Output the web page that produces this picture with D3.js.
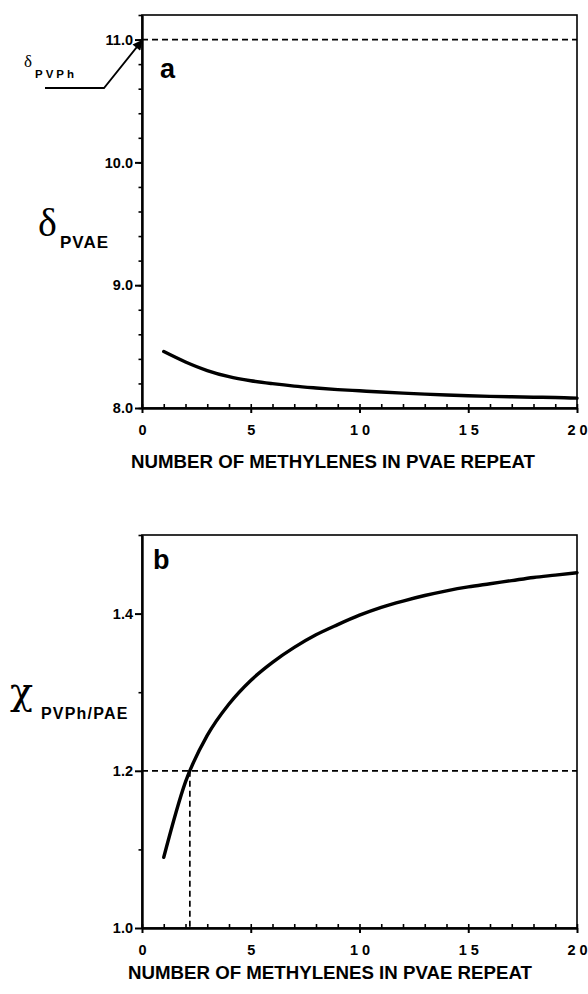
<!DOCTYPE html>
<html>
<head>
<meta charset="utf-8">
<script src="https://cdn.jsdelivr.net/npm/d3@7"></script>
<style>
  html, body { margin: 0; padding: 0; background: #fff; }
  svg { display: block; }
</style>
</head>
<body>
<script>
// Number of CH2 units in the poly(vinyl alkyl ether) repeat
const methylenes = [1, 2, 3, 4, 5, 6, 7, 8, 9, 10, 11, 12, 13, 14, 15, 16, 17, 18, 19, 20];
// Panel a: solubility parameter of PVAE
const deltaPVAE = [8.46, 8.375, 8.305, 8.255, 8.222, 8.198, 8.178, 8.163, 8.150, 8.140,
                   8.130, 8.121, 8.113, 8.106, 8.100, 8.095, 8.091, 8.088, 8.086, 8.080];
// Panel b: interaction parameter PVPh / PAE
const chiPVPhPAE = [1.09, 1.186, 1.245, 1.285, 1.315, 1.338, 1.357, 1.373, 1.386, 1.398,
                    1.408, 1.416, 1.423, 1.429, 1.434, 1.438, 1.442, 1.446, 1.449, 1.452];
const deltaPVPh = 11.0;
const chiCritical = 1.2;
const nCritical = 2.2;

const xTicks = [0, 5, 10, 15, 20];
const xTickLabels = ["0", "5", "1 0", "1 5", "2 0"];
const yTicksA = [8, 9, 10, 11];
const yTickLabelsA = ["8.0", "9.0", "10.0", "11.0"];
const yTicksB = [1.0, 1.2, 1.4];
const yTickLabelsB = ["1.0", "1.2", "1.4"];
const xTitle = "NUMBER OF METHYLENES IN PVAE REPEAT";

const W = 588, H = 994;
const SANS = "'Liberation Sans', Arial, Helvetica, sans-serif";
const SERIF = "'Liberation Serif', 'Times New Roman', serif";
const GREEK = "'DejaVu Serif', 'Liberation Serif', serif";

const svg = d3.select("body").append("svg")
  .attr("width", W).attr("height", H)
  .attr("viewBox", `0 0 ${W} ${H}`);

const defs = svg.append("defs");
defs.append("marker")
  .attr("id", "arrowHead")
  .attr("viewBox", "0 0 10 10")
  .attr("refX", 9).attr("refY", 5)
  .attr("markerUnits", "userSpaceOnUse")
  .attr("markerWidth", 13).attr("markerHeight", 10)
  .attr("orient", "auto")
  .append("path")
  .attr("d", "M0,0 L10,5 L0,10 Z")
  .attr("fill", "#000");

const x = d3.scaleLinear().domain([0, 20]).range([142, 577]);

function drawPanel(cfg) {
  const g = svg.append("g");
  const y = cfg.y;
  const [y0, y1] = y.domain();

  // frame
  g.append("rect")
    .attr("x", x(0)).attr("y", y(y1))
    .attr("width", x(20) - x(0)).attr("height", y(y0) - y(y1))
    .attr("fill", "none").attr("stroke", "#000").attr("stroke-width", 1.6);

  // minor ticks
  g.append("g")
    .attr("transform", `translate(${x(0)},0)`)
    .call(d3.axisLeft(y).tickValues(cfg.yMinor).tickSize(3.5).tickFormat(""))
    .call(a => a.select(".domain").remove())
    .call(a => a.selectAll("line").attr("stroke-width", 1.6));
  g.append("g")
    .attr("transform", `translate(0,${y(y0)})`)
    .call(d3.axisTop(x).tickValues(d3.range(0, 21, 1)).tickSize(4).tickFormat(""))
    .call(a => a.select(".domain").remove())
    .call(a => a.selectAll("line").attr("stroke-width", 1.6));

  // major y axis
  g.append("g")
    .attr("transform", `translate(${x(0)},0)`)
    .call(d3.axisLeft(y).tickValues(cfg.yTicks).tickSizeInner(7).tickSizeOuter(0)
      .tickPadding(2).tickFormat((d, i) => cfg.yLabels[i]))
    .call(a => a.select(".domain").attr("stroke-width", 2.4))
    .call(a => a.selectAll("line").attr("stroke-width", 2))
    .call(a => a.selectAll("text")
      .attr("font-family", SANS).attr("font-weight", "bold")
      .attr("font-size", 14.5).attr("fill", "#000"));

  // major x axis
  g.append("g")
    .attr("transform", `translate(0,${y(y0)})`)
    .call(d3.axisBottom(x).tickValues(xTicks).tickSizeInner(5).tickSizeOuter(0)
      .tickPadding(12).tickFormat((d, i) => xTickLabels[i]))
    .call(a => a.select(".domain").attr("stroke-width", 2.4))
    .call(a => a.selectAll("line").attr("stroke-width", 2))
    .call(a => a.selectAll("text")
      .attr("font-family", SANS).attr("font-weight", "bold")
      .attr("font-size", 14.5).attr("fill", "#000"));

  // axis title
  g.append("text")
    .attr("x", cfg.titleX).attr("y", cfg.titleY)
    .attr("font-family", SANS).attr("font-weight", "bold")
    .attr("font-size", 17.5)
    .attr("textLength", 404).attr("lengthAdjust", "spacingAndGlyphs")
    .text(xTitle);

  // panel letter
  g.append("text")
    .attr("x", cfg.letterX).attr("y", cfg.letterY)
    .attr("font-family", SANS).attr("font-weight", "bold")
    .attr("font-size", 27).text(cfg.letter);

  // data curve
  const line = d3.line()
    .x((d, i) => x(methylenes[i]))
    .y(d => y(d))
    .curve(d3.curveMonotoneX);
  g.append("path")
    .datum(cfg.values)
    .attr("d", line)
    .attr("fill", "none").attr("stroke", "#000")
    .attr("stroke-width", 3.4).attr("stroke-linecap", "round")
    .attr("stroke-linejoin", "round");
  return g;
}

// ---------- panel a ----------
const yA = d3.scaleLinear().domain([8, 11.2]).range([408, 15]);
const gA = drawPanel({
  y: yA, yTicks: yTicksA, yLabels: yTickLabelsA,
  yMinor: d3.range(8, 11.21, 0.2),
  values: deltaPVAE,
  titleX: 131, titleY: 468,
  letter: "a", letterX: 160, letterY: 78
});

gA.append("line")
  .attr("x1", x(0)).attr("x2", x(20))
  .attr("y1", yA(deltaPVPh)).attr("y2", yA(deltaPVPh))
  .attr("stroke", "#000").attr("stroke-width", 1.7)
  .attr("stroke-dasharray", "6,4");

// pointer to the PVPh solubility parameter
gA.append("path")
  .attr("d", `M45,88 L104,88 L${x(0)},${yA(deltaPVPh) + 1}`)
  .attr("fill", "none").attr("stroke", "#000").attr("stroke-width", 1.8)
  .attr("marker-end", "url(#arrowHead)");

const lblPVPh = gA.append("text").attr("x", 24).attr("y", 67);
lblPVPh.append("tspan").attr("font-family", SERIF).attr("font-size", 17).text("δ");
lblPVPh.append("tspan").attr("x", 35).attr("y", 78)
  .attr("font-family", SANS).attr("font-weight", "bold")
  .attr("font-size", 11.5).attr("letter-spacing", 3).text("PVPh");

const lblPVAE = gA.append("text").attr("x", 38).attr("y", 236);
lblPVAE.append("tspan").attr("font-family", SERIF).attr("font-size", 40).text("δ");
lblPVAE.append("tspan").attr("x", 60).attr("y", 248)
  .attr("font-family", SANS).attr("font-weight", "bold")
  .attr("font-size", 17).attr("letter-spacing", 1).text("PVAE");

// ---------- panel b ----------
const yB = d3.scaleLinear().domain([1.0, 1.5]).range([928, 535]);
const gB = drawPanel({
  y: yB, yTicks: yTicksB, yLabels: yTickLabelsB,
  yMinor: [1.1, 1.3, 1.5],
  values: chiPVPhPAE,
  titleX: 128, titleY: 979,
  letter: "b", letterX: 153, letterY: 569
});

gB.append("line")
  .attr("x1", x(0)).attr("x2", x(20))
  .attr("y1", yB(chiCritical)).attr("y2", yB(chiCritical))
  .attr("stroke", "#000").attr("stroke-width", 1.7)
  .attr("stroke-dasharray", "6,4");
gB.append("line")
  .attr("x1", x(nCritical)).attr("x2", x(nCritical))
  .attr("y1", yB(chiCritical)).attr("y2", yB(1.0))
  .attr("stroke", "#000").attr("stroke-width", 1.7)
  .attr("stroke-dasharray", "6,4");

const lblChi = gB.append("text").attr("x", 10).attr("y", 704);
lblChi.append("tspan").attr("font-family", GREEK).attr("font-size", 38).text("χ");
lblChi.append("tspan").attr("x", 41).attr("y", 719)
  .attr("font-family", SANS).attr("font-weight", "bold")
  .attr("font-size", 16).attr("letter-spacing", 1.2).text("PVPh/PAE");
</script>
</body>
</html>
